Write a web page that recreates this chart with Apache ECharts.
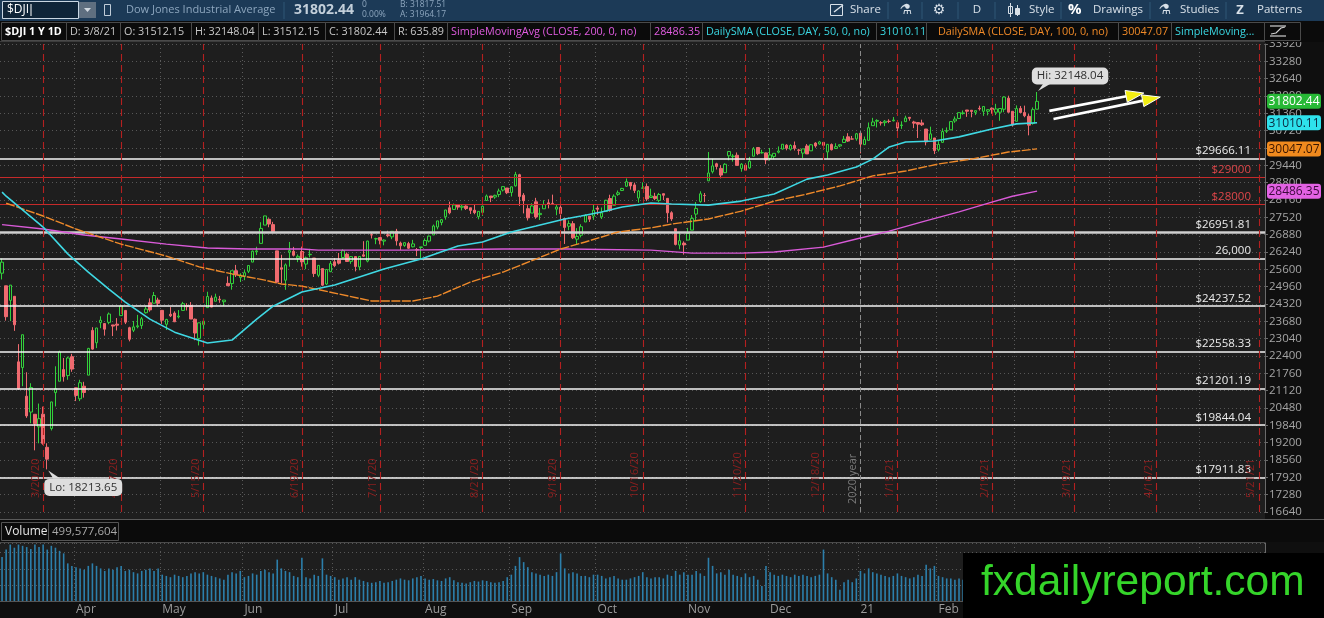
<!DOCTYPE html>
<html>
<head>
<meta charset="utf-8">
<script src="https://cdn.jsdelivr.net/npm/echarts@6.0.0/dist/echarts.min.js"></script>
<style>
html, body { margin: 0; padding: 0; background: #0d0d0d; }
#chart { width: 1324px; height: 618px; }
</style>
</head>
<body>
<div id="chart"></div>
<script>
// daily candles: date, open, close, low, high
var candles = [
['2020-03-06',25457,25864,25226,25995],['2020-03-09',24992,23851,23706,24992],['2020-03-10',24454,25018,23690,25020],
['2020-03-11',24604,23553,23328,24604],['2020-03-12',22184,21200,21154,22838],['2020-03-13',21973,23185,21285,23186],
['2020-03-16',20917,20189,20116,21800],['2020-03-17',20331,21237,19917,21395],['2020-03-18',20248,19899,18917,20248],
['2020-03-19',19784,20087,19177,20644],['2020-03-20',20253,19174,19122,20531],['2020-03-23',19029,18592,18214,19178],
['2020-03-24',19723,20705,19650,20708],['2020-03-25',21050,21200,20538,22020],['2020-03-26',21468,22552,21468,22596],
['2020-03-27',21898,21637,21455,22327],['2020-03-30',21678,22327,21522,22378],['2020-03-31',22374,21917,21816,22480],
['2020-04-01',21227,20944,20735,21227],['2020-04-02',20820,21413,20736,21521],['2020-04-03',21285,21053,20863,21447],
['2020-04-06',21693,22680,21693,22700],['2020-04-07',23344,22654,22632,23464],['2020-04-08',22889,23434,22691,23441],
['2020-04-09',23632,23719,23426,23866],['2020-04-13',23598,23390,23152,23598],['2020-04-14',23643,23950,23573,24006],
['2020-04-15',23547,23504,23136,23547],['2020-04-16',23576,23538,23342,23800],['2020-04-17',23891,24242,23891,24265],
['2020-04-20',24083,23650,23578,24083],['2020-04-21',23445,23019,22941,23480],['2020-04-22',23351,23475,23283,23694],
['2020-04-23',23479,23515,23421,23919],['2020-04-24',23523,23775,23399,23840],['2020-04-27',23998,24134,23968,24230],
['2020-04-28',24366,24102,24037,24527],['2020-04-29',24350,24634,24350,24764],['2020-04-30',24465,24346,24236,24553],
['2020-05-01',24085,23724,23585,24085],['2020-05-04',23571,23750,23361,23773],['2020-05-05',23940,23883,23838,24206],
['2020-05-06',23985,23664,23653,24050],['2020-05-07',23845,23875,23788,24096],['2020-05-08',24083,24331,24083,24399],
['2020-05-11',24262,24221,24081,24348],['2020-05-12',24268,23765,23764,24391],['2020-05-13',23758,23248,22983,23784],
['2020-05-14',23049,23625,22790,23626],['2020-05-15',23559,23685,23316,23686],['2020-05-18',24186,24597,24186,24773],
['2020-05-19',24543,24207,24199,24634],['2020-05-20',24421,24575,24421,24701],['2020-05-21',24500,24474,24365,24620],
['2020-05-22',24404,24465,24249,24468],['2020-05-26',25082,24995,24983,25337],['2020-05-27',25074,25548,24849,25548],
['2020-05-28',25549,25401,25318,25763],['2020-05-29',25300,25383,25132,25455],
['2020-06-01',25342,25475,25199,25571],['2020-06-02',25529,25742,25463,25742],['2020-06-03',25867,26270,25867,26297],
['2020-06-04',26246,26282,26130,26433],['2020-06-05',26558,27111,26558,27339],['2020-06-08',27233,27572,27233,27580],
['2020-06-09',27448,27272,27154,27484],['2020-06-10',27251,26990,26931,27354],['2020-06-11',26282,25128,25082,26282],
['2020-06-12',25659,25606,25084,26137],['2020-06-15',25198,25763,24844,25818],['2020-06-16',26231,26290,25697,26611],
['2020-06-17',26267,26120,26075,26429],['2020-06-18',26016,26080,25865,26149],['2020-06-19',26260,25871,25699,26438],
['2020-06-22',25795,26025,25607,26070],['2020-06-23',26140,26156,26042,26357],['2020-06-24',26017,25445,25318,26017],
['2020-06-25',25380,25746,25310,25757],['2020-06-26',25628,25016,24979,25628],['2020-06-29',25058,25596,25015,25607],
['2020-06-30',25512,25813,25499,25906],
['2020-07-01',25879,25735,25680,26013],['2020-07-02',25940,25827,25778,26205],['2020-07-06',26037,26287,26008,26344],
['2020-07-07',26162,25890,25880,26223],['2020-07-08',25896,26067,25803,26089],['2020-07-09',26072,25706,25524,26077],
['2020-07-10',25689,26075,25566,26085],['2020-07-13',26136,26086,26055,26639],['2020-07-14',25903,26643,25858,26656],
['2020-07-15',26876,26870,26739,26966],['2020-07-16',26721,26735,26529,26766],['2020-07-17',26772,26672,26521,26792],
['2020-07-20',26643,26681,26487,26706],['2020-07-21',26876,26840,26785,27024],['2020-07-22',26799,27005,26714,27006],
['2020-07-23',27006,26652,26479,27094],['2020-07-24',26571,26470,26313,26624],['2020-07-27',26482,26584,26430,26598],
['2020-07-28',26550,26379,26352,26616],['2020-07-29',26432,26540,26411,26688],['2020-07-30',26326,26314,26087,26386],
['2020-07-31',26405,26428,26015,26429],
['2020-08-03',26486,26664,26468,26741],['2020-08-04',26643,26828,26594,26846],['2020-08-05',26868,27201,26868,27253],
['2020-08-06',27161,27387,27077,27392],['2020-08-07',27330,27433,27225,27457],['2020-08-10',27540,27791,27434,27797],
['2020-08-11',27873,27687,27631,28101],['2020-08-12',27812,27977,27812,28031],['2020-08-13',27977,27897,27800,28003],
['2020-08-14',27891,27931,27776,27993],['2020-08-17',27937,27844,27792,27964],['2020-08-18',27872,27778,27645,27872],
['2020-08-19',27784,27693,27634,27989],['2020-08-20',27546,27740,27446,27752],['2020-08-21',27700,27930,27572,27958],
['2020-08-24',28141,28308,28136,28363],['2020-08-25',28306,28249,28081,28309],['2020-08-26',28270,28332,28203,28356],
['2020-08-27',28362,28492,28267,28580],['2020-08-28',28527,28654,28474,28660],['2020-08-31',28602,28430,28378,28602],
['2020-09-01',28439,28646,28290,28659],['2020-09-02',28680,29100,28657,29199],['2020-09-03',29094,28292,27941,29127],
['2020-09-04',28338,28133,27665,28414],['2020-09-08',27840,27501,27403,27970],['2020-09-09',27678,27940,27678,28042],
['2020-09-10',28093,27535,27467,28240],['2020-09-11',27619,27666,27420,27870],['2020-09-14',27836,27993,27836,28151],
['2020-09-15',28054,27995,27851,28185],['2020-09-16',28036,28032,27987,28358],['2020-09-17',27822,27902,27597,28001],
['2020-09-18',27887,27657,27411,27961],['2020-09-21',27479,27148,26537,27479],['2020-09-22',27193,27288,27044,27405],
['2020-09-23',27287,26763,26716,27379],['2020-09-24',26713,26815,26537,27121],['2020-09-25',26859,27174,26780,27264],
['2020-09-28',27347,27584,27347,27640],['2020-09-29',27563,27452,27349,27570],['2020-09-30',27563,27782,27426,28007],
['2020-10-01',27865,27817,27607,27949],['2020-10-02',27536,27683,27459,27882],['2020-10-05',27738,28149,27737,28166],
['2020-10-06',28215,27773,27728,28354],['2020-10-07',27965,28303,27965,28370],['2020-10-08',28368,28426,28313,28510],
['2020-10-09',28513,28587,28490,28607],['2020-10-12',28668,28838,28643,28955],['2020-10-13',28809,28680,28542,28820],
['2020-10-14',28718,28515,28416,28802],['2020-10-15',28234,28494,28060,28519],['2020-10-16',28593,28607,28580,28811],
['2020-10-19',28657,28196,28119,28770],['2020-10-20',28252,28309,28233,28578],['2020-10-21',28296,28211,28155,28425],
['2020-10-22',28146,28364,28080,28422],['2020-10-23',28393,28336,28158,28393],['2020-10-26',28221,27686,27325,28230],
['2020-10-27',27690,27463,27386,27745],['2020-10-28',27101,26520,26484,27101],['2020-10-29',26497,26659,26340,26974],
['2020-10-30',26568,26502,26143,26633],
['2020-11-02',26681,26925,26681,27130],['2020-11-03',27047,27481,27047,27603],['2020-11-04',27640,27848,27389,28083],
['2020-11-05',28102,28390,28057,28482],['2020-11-06',28325,28323,28081,28419],['2020-11-09',28868,29158,28868,29933],
['2020-11-10',29204,29421,29140,29680],['2020-11-11',29498,29398,29286,29535],['2020-11-12',29327,29080,28960,29444],
['2020-11-13',29169,29480,29162,29518],['2020-11-16',29793,29950,29625,29964],['2020-11-17',29760,29784,29578,29856],
['2020-11-18',29812,29438,29433,29916],['2020-11-19',29325,29483,29204,29520],['2020-11-20',29447,29263,29238,29510],
['2020-11-23',29346,29591,29311,29751],['2020-11-24',29776,30046,29776,30117],['2020-11-25',30098,29872,29816,30116],
['2020-11-27',29902,29910,29873,30014],['2020-11-30',29899,29639,29481,29908],
['2020-12-01',29697,29823,29614,30082],['2020-12-02',29768,29883,29666,29883],['2020-12-03',29925,29969,29880,30138],
['2020-12-04',30041,30218,30024,30218],['2020-12-07',30185,30070,29995,30220],['2020-12-08',30033,30174,29985,30215],
['2020-12-09',30172,30068,29988,30319],['2020-12-10',30002,29999,29830,30049],['2020-12-11',29891,30046,29713,30048],
['2020-12-14',30155,29861,29860,30225],['2020-12-15',29976,30199,29976,30219],['2020-12-16',30264,30155,30092,30293],
['2020-12-17',30229,30304,30200,30342],['2020-12-18',30288,30179,30024,30288],['2020-12-21',29935,30216,29680,30223],
['2020-12-22',30208,30016,29989,30248],['2020-12-23',30060,30129,30046,30255],['2020-12-24',30155,30200,30111,30209],
['2020-12-28',30283,30404,30283,30525],['2020-12-29',30492,30336,30307,30627],['2020-12-30',30415,30409,30393,30525],
['2020-12-31',30417,30606,30349,30637],
['2021-01-04',30627,30223,29881,30674],['2021-01-05',30204,30392,30194,30504],['2021-01-06',30362,30830,30362,31022],
['2021-01-07',30904,31041,30904,31193],['2021-01-08',31069,31098,30838,31140],['2021-01-11',31016,31009,30908,31071],
['2021-01-12',31016,31068,30887,31114],['2021-01-13',31066,31061,30997,31140],['2021-01-14',31085,31113,31061,31223],
['2021-01-15',31016,30814,30612,31032],['2021-01-19',30910,30930,30787,31064],['2021-01-20',31052,31188,31052,31272],
['2021-01-21',31212,31176,31088,31224],['2021-01-22',31041,30997,30813,31085],['2021-01-25',31020,30960,30449,31035],
['2021-01-26',31006,30937,30893,31125],['2021-01-27',30780,30303,30177,30780],['2021-01-28',30399,30603,30382,30868],
['2021-01-29',30451,29983,29857,30452],
['2021-02-01',30011,30212,29950,30333],['2021-02-02',30287,30688,30287,30806],['2021-02-03',30697,30724,30634,30840],
['2021-02-04',30750,31056,30750,31058],['2021-02-05',31078,31148,31011,31245],['2021-02-08',31170,31386,31170,31386],
['2021-02-09',31352,31376,31309,31467],['2021-02-10',31483,31438,31229,31484],['2021-02-11',31474,31431,31214,31479],
['2021-02-12',31395,31458,31296,31459],['2021-02-16',31547,31523,31462,31644],['2021-02-17',31436,31613,31266,31614],
['2021-02-18',31436,31494,31285,31507],['2021-02-19',31550,31494,31345,31579],['2021-02-22',31401,31522,31294,31711],
['2021-02-23',31402,31537,31086,31547],['2021-02-24',31511,31962,31402,31990],['2021-02-25',31919,31403,31385,32010],
['2021-02-26',31436,30932,30870,31436],
['2021-03-01',31065,31535,31065,31654],['2021-03-02',31542,31391,31379,31632],['2021-03-03',31389,31270,31216,31644],
['2021-03-04',31250,30924,30547,31333],['2021-03-05',30986,31496,30942,31577],['2021-03-08',31512.15,31802.44,31512.15,32148.04]
];

// volume, millions of shares, one per candle
var volumes = [
700,820,900,850,900,880,860,830,900,860,900,820,880,850,800,760,600,560,                 // Mar
540,520,500,560,600,560,520,480,520,500,540,560,480,500,460,440,480,500,520,480,520,     // Apr
420,400,380,420,400,380,400,440,460,440,460,420,400,380,360,340,420,460,440,480,         // May
380,400,440,420,480,500,460,440,660,520,480,460,400,380,690,380,360,420,400,680,420,400, // Jun
380,340,360,380,340,380,340,320,300,290,300,320,290,300,320,340,360,340,330,360,380,400, // Jul
360,340,350,330,320,360,380,330,300,290,280,300,320,310,330,320,300,290,300,320,380,     // Aug
420,560,700,620,540,460,440,420,400,420,400,460,760,520,440,460,440,400,400,380,420,     // Sep
420,400,360,380,400,360,340,340,360,380,400,460,380,360,380,380,360,420,400,480,420,460, // Oct
420,420,480,440,400,690,560,440,460,420,500,420,400,380,440,380,400,340,240,560,         // Nov
460,420,400,420,400,380,420,400,420,400,380,400,420,820,440,380,340,180,300,340,300,360, // Dec
480,440,520,460,440,420,400,380,400,440,400,380,360,380,420,400,580,520,560,             // Jan
400,380,360,360,340,360,340,380,340,320,380,380,360,380,400,420,440,520,520,             // Feb
480,420,440,520,560,500                                                                  // Mar
];

// moving averages
var sma50 = [
['2020-03-06',28450],['2020-03-09',28300],['2020-03-20',27160],['2020-03-30',26170],['2020-04-06',25500],
['2020-04-14',24870],['2020-04-20',24390],['2020-04-28',23760],['2020-05-06',23280],['2020-05-13',23030],
['2020-05-18',22880],['2020-05-27',22990],['2020-06-04',23760],['2020-06-10',24240],['2020-06-19',24760],
['2020-07-01',25020],['2020-07-20',25610],['2020-07-31',25980],['2020-08-13',26460],['2020-08-21',26610],
['2020-09-01',26980],['2020-09-10',27200],['2020-09-21',27460],['2020-09-25',27570],['2020-10-02',27720],
['2020-10-09',27900],['2020-10-20',28050],['2020-10-27',28010],['2020-11-09',27970],['2020-11-19',28120],
['2020-12-02',28380],['2020-12-14',28930],['2020-12-21',29080],['2020-12-31',29380],['2021-01-07',29670],
['2021-01-13',30120],['2021-01-20',30300],['2021-01-29',30340],['2021-02-08',30490],['2021-02-19',30780],
['2021-03-01',30970],['2021-03-08',31010.11]
];
var sma100 = [
['2020-03-09',28040],['2020-03-20',27570],['2020-04-01',27090],['2020-04-17',26530],['2020-05-04',26090],
['2020-05-14',25690],['2020-05-27',25430],['2020-06-08',25200],['2020-06-12',25060],['2020-06-19',24980],
['2020-07-02',24690],['2020-07-15',24430],['2020-07-29',24430],['2020-08-06',24610],['2020-08-18',25130],
['2020-08-28',25500],['2020-09-10',25980],['2020-09-18',26350],['2020-09-28',26610],['2020-10-08',26980],
['2020-10-20',27130],['2020-10-27',27270],['2020-11-09',27460],['2020-11-19',27750],['2020-12-02',28120],
['2020-12-14',28380],['2020-12-24',28680],['2021-01-07',29050],['2021-01-20',29230],['2021-02-01',29490],
['2021-02-11',29670],['2021-02-25',29930],['2021-03-08',30047.07]
];
var sma200 = [
['2020-03-06',27250],['2020-03-20',27090],['2020-04-03',26870],['2020-04-17',26720],['2020-05-04',26530],
['2020-05-18',26390],['2020-06-02',26350],['2020-06-19',26350],['2020-06-25',26310],['2020-07-27',26310],
['2020-08-28',26350],['2020-09-22',26350],['2020-10-20',26310],['2020-11-03',26200],['2020-11-19',26200],
['2020-12-02',26240],['2020-12-18',26420],['2020-12-31',26720],['2021-01-13',27010],['2021-01-26',27350],
['2021-02-08',27720],['2021-02-19',28080],['2021-02-26',28300],['2021-03-08',28486.35]
];

// price levels
var fibPct = ['-23.6%', '0.0%', '23.6%', '38.2%', '50.0%', '61.8%', '78.6%'];
var fibPrice = [29666.11, 26951.81, 24237.52, 22558.33, 21201.19, 19844.04, 17911.83];
var redLevels = [29000, 28000];
var roundLevel = 26000;
var expiries = ['2020-03-20','2020-04-17','2020-05-15','2020-06-19','2020-07-17','2020-08-21','2020-09-18',
  '2020-10-16','2020-11-20','2020-12-18','2021-01-15','2021-02-19','2021-03-19','2021-04-16','2021-05-21'];
var yearLine = '2021-01-04';
var hiPoint = ['2021-03-08', 32148.04];
var loPoint = ['2020-03-23', 18213.65];
var lastTags = [
  { value: 31802.44, bg: '#27b936', fg: '#ffffff' },
  { value: 31010.11, bg: '#2ee2ec', fg: '#0b2a40' },
  { value: 30047.07, bg: '#f08a1e', fg: '#3a1600' },
  { value: 28486.35, bg: '#e362e4', fg: '#3c0a3c' }
];
var arrows = [
  { from: ['2021-03-11', 31450], to: ['2021-04-13', 32110] },
  { from: ['2021-03-12', 31150], to: ['2021-04-19', 31960] }
];
var monthNames = ['Jan','Feb','Mar','Apr','May','Jun','Jul','Aug','Sep','Oct','Nov','Dec'];

// empty weekdays to the right of the last bar
var futureDays = [];
(function () {
  var d = new Date(Date.UTC(2021, 2, 9));
  var end = new Date(Date.UTC(2021, 4, 24));
  while (d <= end) {
    var wd = d.getUTCDay();
    if (wd !== 0 && wd !== 6) futureDays.push(d.toISOString().slice(0, 10));
    d.setUTCDate(d.getUTCDate() + 1);
  }
})();
var categories = candles.map(function (r) { return r[0]; }).concat(futureDays);

function isMonthStart(i) {
  if (i <= 0 || i >= categories.length) return false;
  return categories[i].slice(5, 7) !== categories[i - 1].slice(5, 7);
}
function shortDate(s) {
  return (+s.slice(5, 7)) + '/' + (+s.slice(8, 10)) + '/' + s.slice(2, 4);
}

var F = '"Open Sans","Noto Sans",sans-serif';
var dom = document.getElementById('chart');
var myChart = echarts.init(dom);

function T(x, y, s, fill, size, weight, family, align) {
  return { type: 'text', z: 50, silent: true, style: {
    x: x, y: y, text: s, fill: fill,
    font: (weight || 'normal') + ' ' + size + 'px ' + (family || F),
    textAlign: align || 'left', textVerticalAlign: 'middle', align: align || 'left', verticalAlign: 'middle'
  } };
}
function R(x, y, w, h, fill, stroke, z, r) {
  return { type: 'rect', z: z == null ? 40 : z, silent: true, shape: { x: x, y: y, width: w, height: h, r: r || 0 },
    style: { fill: fill || 'none', stroke: stroke || null, lineWidth: 1 } };
}
function L(x1, y1, x2, y2, stroke, w, z) {
  return { type: 'line', z: z == null ? 45 : z, silent: true, shape: { x1: x1, y1: y1, x2: x2, y2: y2 },
    style: { stroke: stroke, lineWidth: w || 1 } };
}

// header, study row, volume title, watermark
var staticGraphic = [
  R(0, 42, 1265, 477, '#1e1e1e', null, -1),
  R(0, 0, 1324, 21, '#1c3a57', null, 40),
  R(2.5, 1.5, 76, 17, '#0f2438', '#c9d5e1', 41),
  T(7, 10, '$DJI', '#ffffff', 12),
  L(31, 4, 31, 16, '#ffffff', 1, 46),
  R(79, 2, 17, 16, '#5f6f80', null, 41),
  { type: 'polygon', z: 46, silent: true, shape: { points: [[84, 8], [91, 8], [87.5, 12]] }, style: { fill: '#d0d8e0' } },
  R(104.5, 4.5, 6, 11, 'none', '#c0ccd8', 41),
  T(126, 10, 'Dow Jones Industrial Average', '#8da6be', 11),
  L(284, 2, 284, 19, '#2f5676', 1),
  T(294, 10, '31802.44', '#c3cfda', 14, 'bold'),
  T(362, 5, '0', '#8da6be', 8.5), T(362, 15, '0.00%', '#8da6be', 8.5),
  T(400, 5, 'B: 31817.51', '#8da6be', 8.5), T(400, 15, 'A: 31964.17', '#8da6be', 8.5),
  R(830.5, 4.5, 12, 11, 'none', '#d8e0e8', 41),
  L(834, 12, 843, 5, '#d8e0e8', 1.5, 46),
  T(850, 10, 'Share', '#d8e0e8', 11.5),
  L(888, 2, 888, 19, '#2f5676', 1),
  T(906, 10, '\u2697', '#d8e0e8', 14, 'normal', '"DejaVu Sans"', 'center'),
  L(922, 2, 922, 19, '#2f5676', 1),
  T(939, 10, '\u2699', '#d8e0e8', 14, 'normal', '"DejaVu Sans"', 'center'),
  L(958, 2, 958, 19, '#2f5676', 1),
  T(977, 10, 'D', '#d8e0e8', 11.5, 'normal', F, 'center'),
  L(995, 2, 995, 19, '#2f5676', 1),
  R(1008.5, 6.5, 4, 7, 'none', '#d8e0e8', 41), L(1010.5, 3, 1010.5, 17, '#d8e0e8', 1, 46),
  R(1015.5, 8.5, 4, 6, '#d8e0e8', '#d8e0e8', 41), L(1017.5, 5, 1017.5, 16, '#d8e0e8', 1, 46),
  T(1029, 10, 'Style', '#d8e0e8', 11.5),
  L(1061, 2, 1061, 19, '#2f5676', 1),
  T(1068, 10, '%', '#ffffff', 15, 'bold'),
  T(1093, 10, 'Drawings', '#d8e0e8', 11.5),
  L(1150, 2, 1150, 19, '#2f5676', 1),
  T(1165, 10, '\u2697', '#d8e0e8', 14, 'normal', '"DejaVu Sans"', 'center'),
  T(1180, 10, 'Studies', '#d8e0e8', 11.5),
  L(1226, 2, 1226, 19, '#2f5676', 1),
  T(1240, 10, 'Z', '#d8e0e8', 13, 'bold', F, 'center'),
  T(1257, 10, 'Patterns', '#d8e0e8', 11.5),
  R(0, 21, 1324, 21, '#0b0b0b', null, 40),
  L(0, 41.5, 1265, 41.5, '#3c3c3c', 1)
];
var studyCells = [
  [1, 66, '$DJI 1 Y 1D', '#ffffff', 'bold'],
  [66, 120, 'D: 3/8/21', '#c8c8c8'],
  [120, 191, 'O: 31512.15', '#c8c8c8'],
  [191, 258, 'H: 32148.04', '#c8c8c8'],
  [258, 325, 'L: 31512.15', '#c8c8c8'],
  [325, 394, 'C: 31802.44', '#c8c8c8'],
  [394, 447, 'R: 635.89', '#c8c8c8'],
  [447, 650, 'SimpleMovingAvg (CLOSE, 200, 0, no)', '#e05ce0'],
  [650, 702, '28486.35', '#e05ce0'],
  [702, 876, 'DailySMA (CLOSE, DAY, 50, 0, no)', '#3ad7e2'],
  [876, 926, '31010.11', '#3ad7e2'],
  [926, 1118, 'DailySMA (CLOSE, DAY, 100, 0, no)', '#f08a28', null, 8],
  [1118, 1171, '30047.07', '#f08a28'],
  [1171, 1264, 'SimpleMoving...', '#3ad7e2'],
  [1264, 1300, '', '#c8c8c8']
];
studyCells.forEach(function (c) {
  staticGraphic.push(R(c[0] + 0.5, 22.5, c[1] - c[0], 18, 'none', '#4a4a4a', 41));
  if (c[2]) staticGraphic.push(T(c[0] + 4 + (c[5] || 0), 31.5, c[2], c[3], 10.8, c[4] || 'normal'));
});
staticGraphic.push(L(1270, 36, 1286, 36, '#d0d0d0', 1.2), L(1270, 26, 1286, 26, '#d0d0d0', 1.2));
staticGraphic.push({ type: 'polyline', z: 46, silent: true, shape: { points: [[1271, 34], [1276, 33], [1281, 28], [1285, 27]] }, style: { stroke: '#d0d0d0', lineWidth: 1.2, fill: null } });
// volume title row
staticGraphic.push(
  L(0, 519.5, 1324, 519.5, '#5a5a5a', 1, 41),
  R(0, 520, 1324, 22, '#0b0b0b', null, 40),
  R(1.5, 522.5, 47, 18, 'none', '#555555', 41),
  T(5, 531.5, 'Volume', '#e6e6e6', 12),
  R(48.5, 522.5, 70, 18, 'none', '#555555', 41),
  T(52, 531.5, '499,577,604', '#a8a8a8', 11.5),
  L(0, 542.5, 1265, 542.5, '#4a4a4a', 1, 41),
  R(963, 553, 361, 65, '#000000', null, 60),
  T(981, 583, 'fxdailyreport.com', '#35d52a', 42.5, 'normal', '"Liberation Sans",Arial,sans-serif')
);
staticGraphic[staticGraphic.length - 1].z = 61;

// horizontal levels with right labels
var levelLines = [];
fibPrice.forEach(function (p, i) {
  levelLines.push({ yAxis: p,
    lineStyle: { color: i === 1 ? '#cfcfcf' : '#f4f4f4', width: i === 1 ? 2.5 : 1.5, type: 'solid' },
    label: { formatter: '$' + p.toFixed(2), color: '#ececec' } });
});
redLevels.forEach(function (p) {
  levelLines.push({ yAxis: p, lineStyle: { color: '#c62a2a', width: 1.2, type: 'solid' },
    label: { formatter: '$' + p, color: '#e0474a' } });
});
levelLines.push({ yAxis: roundLevel, lineStyle: { color: '#f4f4f4', width: 1.5, type: 'solid' },
  label: { formatter: '26,000', color: '#ececec' } });
expiries.forEach(function (d) {
  levelLines.push({ xAxis: d, lineStyle: { color: '#b42020', width: 1.1, type: [7, 4] },
    label: { formatter: shortDate(d), color: '#8e1f1f', position: 'insideStartTop', fontSize: 11, distance: [14, 2] } });
});
levelLines.push({ xAxis: yearLine, lineStyle: { color: '#8a8a8a', width: 1, type: [5, 3] },
  label: { formatter: '2020 year', color: '#7a7a7a', position: 'insideStartTop', fontSize: 11, distance: [8, 2] } });

var pctLines = fibPrice.map(function (p, i) {
  return { yAxis: p, label: { formatter: fibPct[i] } };
});

var splitDots = { show: true, lineStyle: { color: '#575757', type: [1, 3], width: 1 } };

option = {
  backgroundColor: '#0f0f0f',
  animation: false,
  textStyle: { fontFamily: F },
  grid: [
    { left: 0, right: 59, top: 44, height: 468, show: true, backgroundColor: '#1e1e1e', borderWidth: 0, containLabel: false, outerBoundsMode: 'none' },
    { left: 0, right: 59, top: 543, height: 58, show: true, backgroundColor: '#1e1e1e', borderWidth: 0, containLabel: false, outerBoundsMode: 'none' }
  ],
  xAxis: [
    { type: 'category', gridIndex: 0, data: categories, boundaryGap: true,
      axisLine: { show: false }, axisTick: { show: false }, axisLabel: { show: false },
      splitLine: { show: true, interval: function (i) { return isMonthStart(i) && categories[i].slice(5, 7) !== '01'; },
        lineStyle: { color: '#5c5c5c', type: [1, 3], width: 1 } } },
    { type: 'category', gridIndex: 1, data: categories, boundaryGap: true,
      axisLine: { show: true, lineStyle: { color: '#555' } }, axisTick: { show: false },
      axisLabel: { show: true, interval: function (i) { return isMonthStart(i); }, color: '#9a9a9a', fontSize: 12, margin: 3, align: 'left',
        formatter: function (v) { var m = +v.slice(5, 7) - 1; return m === 0 ? v.slice(2, 4) : monthNames[m]; } },
      splitLine: { show: true, interval: function (i) { return isMonthStart(i); },
        lineStyle: { color: '#575757', type: [1, 3], width: 1 } } }
  ],
  yAxis: [
    { type: 'value', gridIndex: 0, position: 'right', min: 16640, max: 33920, interval: 640, scale: false,
      axisLine: { show: true, lineStyle: { color: '#6a6a6a' } },
      axisTick: { show: true, length: 3, lineStyle: { color: '#6a6a6a' } },
      axisLabel: { color: '#a5a5a5', fontSize: 11.5, margin: 4, showMinLabel: true, showMaxLabel: true,
        formatter: function (v) { return String(v); } },
      splitLine: splitDots },
    { type: 'value', gridIndex: 1, position: 'right', min: 0, max: 925, interval: 257,
      axisLine: { show: true, lineStyle: { color: '#6a6a6a' } }, axisTick: { show: false },
      axisLabel: { show: false }, splitLine: splitDots }
  ],
  series: [
    { type: 'candlestick', name: '$DJI', xAxisIndex: 0, yAxisIndex: 0, barWidth: 3,
      data: candles.map(function (r) { return [r[1], r[2], r[3], r[4]]; }),
      itemStyle: { color: '#1e1e1e', color0: '#ef6a6f', borderColor: '#33d13c', borderColor0: '#ef6a6f', borderWidth: 1 },
      markLine: { silent: true, symbol: ['none', 'none'], animation: false, z: 3,
        label: { show: true, position: 'insideEndTop', distance: [14, 2], fontSize: 11.5, fontFamily: F },
        data: levelLines },
      markPoint: { silent: true, symbol: 'circle', symbolSize: 0, animation: false,
        label: { show: true, position: 'inside', color: '#303030', backgroundColor: '#dedede', borderRadius: 5,
          padding: [3, 5, 2, 5], fontSize: 11.5, fontFamily: F },
        data: [
          { coord: hiPoint, label: { formatter: 'Hi: 32148.04', offset: [33, -16] } },
          { coord: loPoint, label: { formatter: 'Lo: 18213.65', offset: [36, 18] } }
        ] } },
    { type: 'line', name: 'SMA200', xAxisIndex: 0, yAxisIndex: 0, data: sma200, symbol: 'none', showSymbol: false,
      lineStyle: { color: '#d95ad8', width: 1.4 },
      markLine: { silent: true, symbol: ['none', 'none'], animation: false,
        lineStyle: { opacity: 0 },
        label: { show: true, position: 'insideStartTop', distance: [8, 2], color: '#e2e2e2', fontSize: 11.5, fontFamily: F },
        data: pctLines } },
    { type: 'line', name: 'SMA100', xAxisIndex: 0, yAxisIndex: 0, data: sma100, symbol: 'none', showSymbol: false,
      lineStyle: { color: '#ef8a2a', width: 1.4, type: [9, 1.5] } },
    { type: 'line', name: 'SMA50', xAxisIndex: 0, yAxisIndex: 0, data: sma50, symbol: 'none', showSymbol: false,
      lineStyle: { color: '#3fd8e3', width: 1.6 } },
    { type: 'bar', name: 'Volume', xAxisIndex: 1, yAxisIndex: 1, data: volumes, barWidth: 1.6,
      itemStyle: { color: '#2c7fab' } }
  ],
  graphic: [{ elements: staticGraphic }]
};

myChart.setOption(option);

// tags, arrows and bubble tails placed from data coordinates
var dyn = [];
lastTags.forEach(function (t) {
  var y = myChart.convertToPixel({ yAxisIndex: 0 }, t.value);
  dyn.push(R(1267, y - 7.5, 54, 15, t.bg, null, 70, 3));
  var tx = T(1294, y + 0.5, t.value.toFixed(2), t.fg, 12, 'normal', F, 'center');
  tx.z = 71;
  dyn.push(tx);
});
arrows.forEach(function (a) {
  var p1 = myChart.convertToPixel({ gridIndex: 0 }, [categories.indexOf(a.from[0]), a.from[1]]);
  var p2 = myChart.convertToPixel({ gridIndex: 0 }, [categories.indexOf(a.to[0]), a.to[1]]);
  var dx = p2[0] - p1[0], dy = p2[1] - p1[1], len = Math.sqrt(dx * dx + dy * dy);
  var ux = dx / len, uy = dy / len, bx = p2[0] - ux * 18, by = p2[1] - uy * 18;
  dyn.push(L(p1[0], p1[1], bx + ux * 3, by + uy * 3, '#ffffff', 2.6, 65));
  dyn.push({ type: 'polygon', z: 66, silent: true,
    shape: { points: [[p2[0], p2[1]], [bx - uy * 6, by + ux * 6], [bx + uy * 6, by - ux * 6]] },
    style: { fill: '#f3ee12', stroke: '#ffffff', lineWidth: 1 } });
});
var ph = myChart.convertToPixel({ gridIndex: 0 }, [categories.indexOf(hiPoint[0]), hiPoint[1]]);
dyn.push({ type: 'polygon', z: 64, silent: true,
  shape: { points: [[ph[0] + 1, ph[1] - 1], [ph[0] + 6, ph[1] - 8], [ph[0] + 13, ph[1] - 8]] }, style: { fill: '#dedede' } });
var pl = myChart.convertToPixel({ gridIndex: 0 }, [categories.indexOf(loPoint[0]), loPoint[1]]);
dyn.push({ type: 'polygon', z: 64, silent: true,
  shape: { points: [[pl[0] + 1, pl[1] + 1], [pl[0] + 6, pl[1] + 9], [pl[0] + 13, pl[1] + 9]] }, style: { fill: '#dedede' } });

myChart.setOption({ graphic: [{ elements: staticGraphic.concat(dyn) }] });
</script>
</body>
</html>
